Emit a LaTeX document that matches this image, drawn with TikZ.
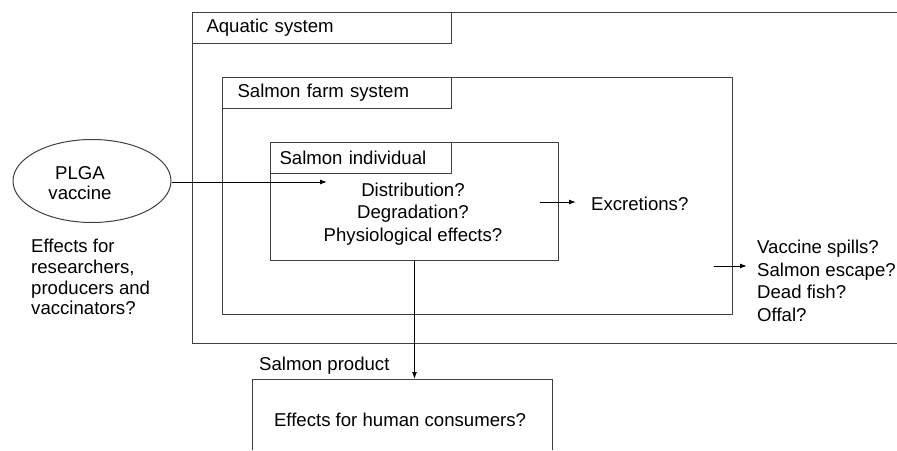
\documentclass[tikz,border=0pt]{standalone}
\usepackage{fontspec}
\setmainfont{Liberation Sans}
\usetikzlibrary{arrows.meta, shapes.geometric, positioning}
\def\aquaticframe{(897,12) -| (192,343) -- (897,343)}
\def\productframe{(252,450) |- (552,379) -- (552,450)}
\tikzset{
    frame/.style = {draw = black!75, line width = 1pt},
    tagbox/.style = {frame, anchor = north west, minimum height = 31pt, inner ysep = 0pt, align = left},
    plain/.style = {inner sep = 0pt, align = center},
    arr/.style = {line width = 1pt, -{Latex[length = 7pt, width = 5pt]}}
}

\begin{document}
\begin{tikzpicture}[x = 1pt, y = -1pt, font = \fontsize{18.6}{22.6}\selectfont]
    \useasboundingbox (0,0) rectangle (897,450);
    % Sistema acquatico
    \draw[frame] \aquaticframe;
    \node[tagbox, text width = 231pt, inner xsep = 14pt] (aquatag) at (192,12) {Aquatic system};
    % Sistema allevamento
    \node[frame, anchor = north west, minimum width = 510pt, minimum height = 237pt] (farm) at (222,77) {};
    \node[tagbox, text width = 199pt, inner xsep = 15pt] (farmtag) at (222,77) {Salmon farm system};
    % Singolo salmone
    \node[frame, anchor = north west, minimum width = 288pt, minimum height = 118pt] (ind) at (270,142) {};
    \node[tagbox, text width = 163pt, inner xsep = 9pt] (indtag) at (270,142) {Salmon individual};
    \node[plain] (indq) at (413,214) {Distribution?\\Degradation?\\Physiological effects?};
    % Vaccino
    \node[frame, ellipse, minimum width = 158pt, minimum height = 83pt, inner sep = 0pt] (vaccine) at (92,181) {};
    \node[plain, font = \fontsize{18.6}{20.5}\selectfont] (vaxname) at (80,183) {PLGA\\vaccine};
    \node[plain, align = left, anchor = west, font = \fontsize{18.6}{20.8}\selectfont] (people) at (31,277) {Effects for\\researchers,\\producers and\\vaccinators?};
    \coordinate (vaxin) at (327,182);
    \draw[arr] (vaccine.east |- vaxin) -- (vaxin);
    % Escrezioni
    \node[plain, anchor = west] (excr) at (591,204) {Excretions?};
    \coordinate (exstart) at (540,202);
    \draw[arr] (exstart) -- ([xshift = -15pt]exstart -| excr.west);
    % Perdite
    \node[plain, align = left, anchor = west] (spills) at (757,281) {Vaccine spills?\\Salmon escape?\\Dead fish?\\Offal?};
    \coordinate (spstart) at (714,266);
    \draw[arr] (spstart) -- ([xshift = -10pt]spstart -| spills.west);
    % Prodotto
    \draw[frame] \productframe;
    \coordinate (prodtop) at (ind.south |- 0,379);
    \draw[arr] (ind.south) -- (prodtop);
    \node[plain, anchor = west] (prodtag) at (259,366) {Salmon product};
    \node[plain] (consumers) at (400,420) {Effects for human consumers?};
\end{tikzpicture}
\end{document}
